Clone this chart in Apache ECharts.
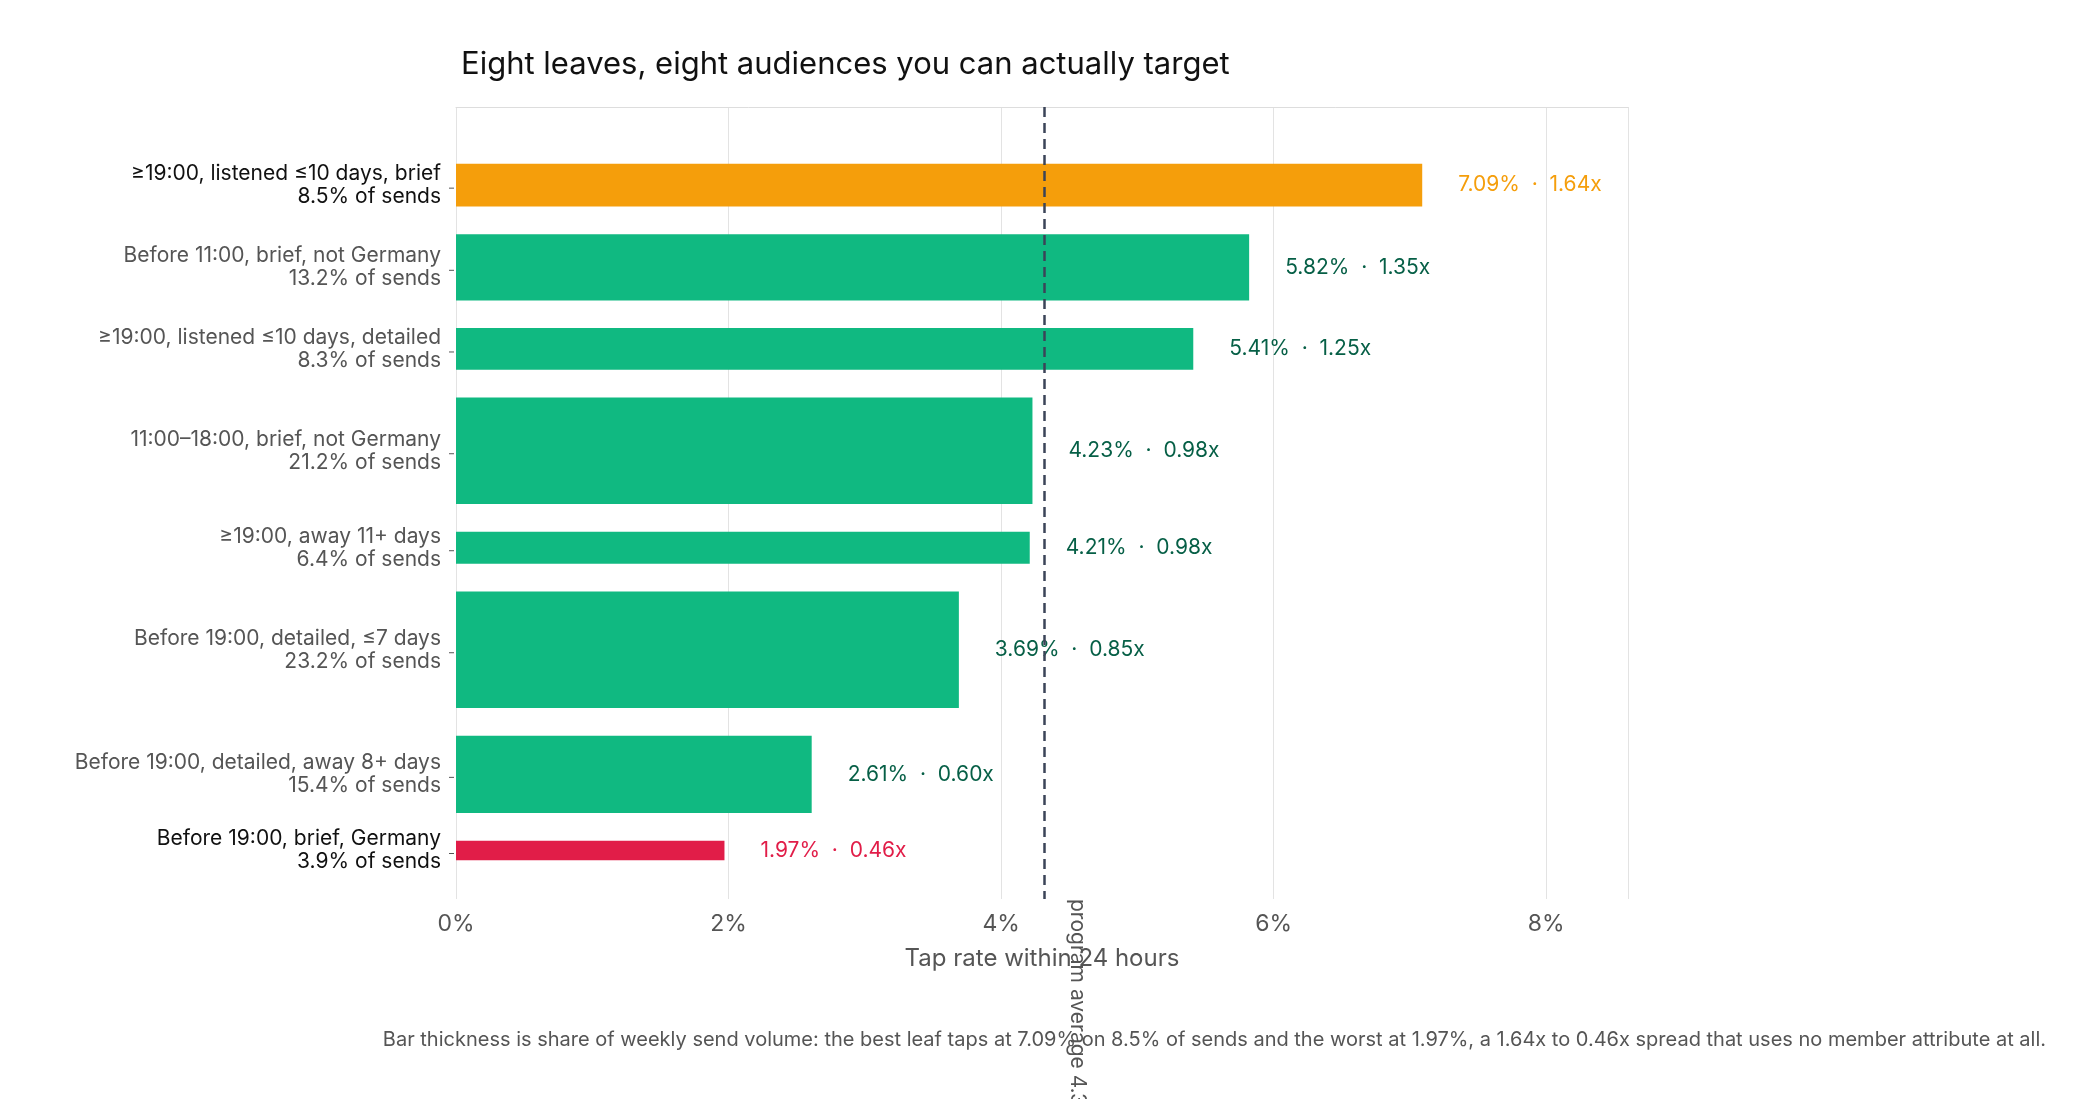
<!DOCTYPE html>
<html><head><meta charset="utf-8">
<script src="https://cdn.jsdelivr.net/npm/echarts@6/dist/echarts.min.js"></script>
<style>html,body{margin:0;padding:0;background:#fff}#c{width:2087px;height:1099px}</style>
</head><body><div id="c"></div>
<script>
const categories = ["≥19:00, listened ≤10 days, brief","Before 11:00, brief, not Germany","≥19:00, listened ≤10 days, detailed","11:00–18:00, brief, not Germany","≥19:00, away 11+ days","Before 19:00, detailed, ≤7 days","Before 19:00, detailed, away 8+ days","Before 19:00, brief, Germany"];
const shares = [8.5,13.2,8.3,21.2,6.4,23.2,15.4,3.9];
const rates = [7.09,5.82,5.41,4.23,4.21,3.69,2.61,1.97];
const lifts = ["1.64x","1.35x","1.25x","0.98x","0.98x","0.85x","0.60x","0.46x"];
const kinds = ["best","mid","mid","mid","mid","mid","mid","worst"];
const programAvg = 4.32;
const xTicks = [0,2,4,6,8];

const GAP = 5.5, TOP = 11.3;
const centers = []; let pos = TOP;
shares.forEach(s => { centers.push(pos + s/2); pos += s + GAP; });

const barColor = {best:'#f59e0b', mid:'#10b981', worst:'#e11d48'};
const txtColor = {best:'#f59e0b', mid:'#065f46', worst:'#e11d48'};
const FONT = 'Inter, "Liberation Sans", sans-serif';

const chart = echarts.init(document.getElementById('c'));
chart.setOption({
  animation:false,
  textStyle:{fontFamily:FONT},
  title:{text:'Eight leaves, eight audiences you can actually target',left:456,top:44,
    textStyle:{fontSize:31,fontWeight:'normal',color:'#111',fontFamily:FONT}},
  graphic:[{type:'text',right:41,top:1030,style:{text:'Bar thickness is share of weekly send volume: the best leaf taps at 7.09% on 8.5% of sends and the worst at 1.97%, a 1.64x to 0.46x spread that uses no member attribute at all.',fontSize:20,fill:'#555',fontFamily:FONT}}],
  grid:{left:456,right:459,top:107,bottom:200},
  xAxis:{type:'value',min:0,max:8.6,interval:2,
    name:'Tap rate within 24 hours',nameLocation:'middle',nameGap:48,
    nameTextStyle:{fontSize:24,color:'#555'},
    axisLabel:{formatter:v=>xTicks.includes(v)?v+'%':'',fontSize:23,color:'#555',margin:14},
    axisLine:{show:true,lineStyle:{color:'#ddd'}},axisTick:{show:false},
    splitLine:{show:true,lineStyle:{color:'#e3e3e3'}}},
  yAxis:{type:'value',min:0,max:157.6,inverse:true,show:false},
  series:[{type:'custom',
    data:rates.map((r,i)=>[r,centers[i],shares[i],i]),
    encode:{x:0,y:1},
    renderItem:(params,api)=>{
      const i=api.value(3), v=api.value(0), c=api.value(1), s=api.value(2);
      const p0=api.coord([0,c]), p1=api.coord([v,c]);
      const h=api.size([0,s])[1];
      const k=kinds[i];
      const hl=k!=='mid';
      return {type:'group',children:[
        {type:'rect',shape:{x:p0[0],y:p0[1]-h/2,width:p1[0]-p0[0],height:h},style:{fill:barColor[k]}},
        {type:'text',style:{text:rates[i].toFixed(2)+'%  ·  '+lifts[i],x:p1[0]+36,y:p1[1],verticalAlign:'middle',fontSize:21,fill:txtColor[k],fontFamily:FONT}},
        {type:'text',style:{text:categories[i]+'\n'+shares[i].toFixed(1)+'% of sends',x:p0[0]-15,y:p0[1],align:'right',verticalAlign:'middle',lineHeight:23,fontSize:21,fill:hl?'#111':'#555',fontFamily:FONT}},
        {type:'line',shape:{x1:p0[0]-7,y1:p0[1]+3,x2:p0[0]-2,y2:p0[1]+3},style:{stroke:'#555',lineWidth:1}}
      ]};
    },
    markLine:{symbol:'none',silent:true,
      lineStyle:{type:[10,6],color:'#3b4458',width:2.5},
      label:{show:true,position:'insideEndTop',formatter:'program average 4.32%',fontSize:21,color:'#555',align:'left',distance:[-22,0],offset:[0,0]},
      data:[{xAxis:programAvg}]}
  },
  {type:'line',data:[],markLine:{symbol:'none',silent:true,lineStyle:{opacity:0},label:{show:false},data:[]}}]
});
</script></body></html>
